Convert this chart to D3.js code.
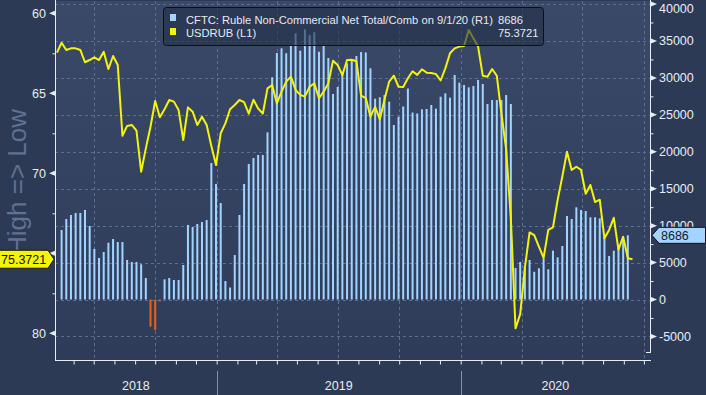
<!DOCTYPE html>
<html>
<head>
<meta charset="utf-8">
<script src="https://cdn.jsdelivr.net/npm/d3@7"></script>
<style>
  body { margin: 0; background: #2c3a56; }
  svg { display: block; font-family: "Liberation Sans", Arial, sans-serif; }
</style>
</head>
<body>
<svg id="chart" width="706" height="395"></svg>
<script>
// CFTC ruble non-commercial net positions, weekly (contracts)
const netPositions = [
  9410, 10900, 11440, 11710, 11710, 12120, 9950, 6840, 5620, 6430,
  7690, 8190, 7780, 7780, 5350, 5080, 5080, 4770, 2910, -3680,
  -4130, -250, 2730, 2910, 2640, 2640, 4670, 10090, 9810, 10220,
  10490, 10760, 18480, 15640, 13060, 2500, 1620, 6020, 11440, 15640,
  18340, 19150, 19560, 19560, 22630, 30080, 33370, 34000, 33330, 34320,
  36030, 33680, 36580, 35800, 36170, 33540, 34320, 32690, 27820, 28770,
  30800, 31970, 32420, 32960, 33500, 33440, 31300, 27180, 27370, 27680,
  26780, 23620, 24740, 26130, 28560, 25310, 25180, 25750, 25790, 26330,
  25830, 27450, 27910, 27320, 30390, 29350, 29040, 28720, 28900, 29710,
  29170, 26460, 27000, 27000, 27000, 27680, 26460, 4260, 5080, 4540,
  5350, 3760, 4220, 5580, 4090, 6610, 5710, 7240, 11300, 10900,
  12480, 12120, 11980, 11130, 11130, 10990, 8500, 5890, 6610, 7070,
  8050, 8686
];

// USDRUB weekly close
const usdrub = [
  62.46, 61.84, 62.29, 62.19, 62.19, 62.29, 63.06, 62.92, 62.75, 62.92,
  62.40, 63.48, 62.67, 63.23, 67.65, 67.04, 66.98, 67.34, 69.90, 68.44,
  67.09, 65.48, 66.50, 66.00, 65.42, 65.52, 66.04, 67.92, 65.88, 66.15,
  66.98, 66.46, 66.98, 68.30, 69.48, 67.50, 66.88, 66.00, 65.73, 65.42,
  65.55, 66.27, 65.40, 65.95, 66.27, 64.69, 64.48, 65.63, 64.90, 64.27,
  63.96, 64.79, 65.10, 65.21, 64.59, 64.38, 65.31, 64.90, 64.38, 62.96,
  63.23, 63.86, 62.92, 62.90, 63.00, 65.15, 65.30, 66.46, 65.85, 66.63,
  65.40, 64.27, 63.90, 64.59, 64.60, 64.06, 63.62, 63.85, 63.50, 63.71,
  63.73, 63.80, 64.20, 63.44, 62.50, 62.19, 62.08, 62.04, 61.04, 61.56,
  62.08, 63.90, 63.96, 63.48, 63.90, 66.30, 68.50, 72.80, 79.69, 78.80,
  75.90, 73.70, 73.86, 74.59, 75.28, 73.54, 73.38, 71.67, 70.21, 68.65,
  69.79, 69.59, 69.79, 71.28, 70.73, 71.80, 71.65, 74.06, 73.54, 72.78,
  74.77, 73.96, 75.31, 75.3721
];

// plotted week positions (Bloomberg weekly buckets)
const firstBarWeek = new Date(2018, 4, 14);
const firstLineWeek = new Date(2018, 4, 7);

const leftTicks = [60, 65, 70, 75, 80];
const leftMinor = [62.5, 67.5, 72.5, 77.5];
const rightTicks = [-5000, 0, 5000, 10000, 15000, 20000, 25000, 30000, 35000, 40000];
const rightMinor = [-2500, 2500, 7500, 12500, 17500, 22500, 27500, 32500, 37500];
const years = [2018, 2019, 2020];

const legendLabels = ["CFTC: Ruble Non-Commercial Net Total/Comb on 9/1/20 (R1)", "USDRUB (L1)"];
const legendValues = ["8686", "75.3721"];

const svg = d3.select("#chart");
const plot = {left: 55, right: 650, top: 1, bottom: 360};

//scales
const x = d3.scaleTime()
  .domain([new Date(2018, 4, 4, 3), new Date(2020, 9, 10, 4)])
  .range([plot.left, plot.right]);
const yL = d3.scaleLinear().domain([60, 80]).range([13.3, 333.3]);
const yR = d3.scaleLinear().domain([0, 40000]).range([299.5, 4]);

const bars = netPositions.map((v, i) => ({date: d3.timeDay.offset(firstBarWeek, 7 * i), value: v}));
const linePts = usdrub.map((v, i) => ({date: d3.timeDay.offset(firstLineWeek, 7 * i), value: v}));

//background
const defs = svg.append("defs");
const grad = defs.append("linearGradient").attr("id", "bg").attr("x1", 0).attr("y1", 0).attr("x2", 0).attr("y2", 1);
grad.append("stop").attr("offset", "0%").attr("stop-color", "#3a4968");
grad.append("stop").attr("offset", "100%").attr("stop-color", "#2e3c59");
defs.append("clipPath").attr("id", "clip")
  .append("rect").attr("x", plot.left).attr("y", plot.top)
  .attr("width", plot.right - plot.left).attr("height", plot.bottom - plot.top);

svg.append("rect").attr("width", 706).attr("height", 395).attr("fill", "#2c3a56");
svg.append("rect")
  .attr("x", plot.left).attr("y", plot.top)
  .attr("width", plot.right - plot.left).attr("height", plot.bottom - plot.top)
  .attr("fill", "url(#bg)");

//grid
const grid = svg.append("g").attr("stroke", "#5b6f93").attr("stroke-dasharray", "3,3").attr("stroke-width", 1);
grid.selectAll("line.h").data(rightTicks).enter().append("line")
  .attr("x1", plot.left).attr("x2", plot.right)
  .attr("y1", d => Math.round(yR(d)) + 0.5).attr("y2", d => Math.round(yR(d)) + 0.5);
grid.selectAll("line.v").data(d3.timeMonth.every(3).range(x.domain()[0], x.domain()[1])).enter().append("line")
  .attr("y1", plot.top).attr("y2", plot.bottom)
  .attr("x1", d => Math.round(x(d)) + 0.5).attr("x2", d => Math.round(x(d)) + 0.5);

//bars
svg.append("g").attr("clip-path", "url(#clip)")
  .selectAll("rect").data(bars).enter().append("rect")
  .attr("x", d => x(d.date) - 1)
  .attr("width", 2)
  .attr("y", d => yR(Math.max(0, d.value)))
  .attr("height", d => Math.abs(yR(d.value) - yR(0)))
  .attr("fill", d => d.value < 0 ? "#e8621c" : "#a3d3ff");

//line
svg.append("path").datum(linePts)
  .attr("clip-path", "url(#clip)")
  .attr("fill", "none")
  .attr("stroke", "#f4f40a")
  .attr("stroke-width", 2)
  .attr("stroke-linejoin", "round")
  .attr("d", d3.line().x(d => x(d.date)).y(d => yL(d.value)));

//legend box
const leg = svg.append("g");
leg.append("rect").attr("x", 163.5).attr("y", 7.5).attr("width", 380).attr("height", 38).attr("rx", 3)
  .attr("fill", "#243049").attr("fill-opacity", 0.62).attr("stroke", "#0b1019");
leg.append("rect").attr("x", 170).attr("y", 14).attr("width", 6).attr("height", 7).attr("fill", "#a3d3ff");
leg.append("rect").attr("x", 170).attr("y", 28).attr("width", 6).attr("height", 7).attr("fill", "#f4f40a");
leg.selectAll("text.lab").data(legendLabels).enter().append("text")
  .attr("x", 186).attr("y", (d, i) => 24 + i * 12.5)
  .attr("font-size", 11.2).attr("fill", "#e6eaf1").text(d => d);
leg.selectAll("text.val").data(legendValues).enter().append("text")
  .attr("x", 498).attr("y", (d, i) => 24 + i * 12.5)
  .attr("font-size", 11.2).attr("fill", "#e6eaf1").text(d => d);

//axes
const axisColor = "#e9ecf2";
const axes = svg.append("g").attr("stroke", axisColor).attr("fill", "none");
axes.append("line").attr("x1", plot.left + 0.5).attr("x2", plot.left + 0.5).attr("y1", 0).attr("y2", plot.bottom);
axes.append("line").attr("x1", plot.right + 0.5).attr("x2", plot.right + 0.5).attr("y1", 0).attr("y2", 353);
axes.append("line").attr("x1", plot.left).attr("x2", plot.right + 1).attr("y1", plot.bottom + 0.5).attr("y2", plot.bottom + 0.5);
axes.append("line").attr("x1", plot.right - 4).attr("x2", plot.right).attr("y1", 352.5).attr("y2", 352.5);

// left axis
const lAx = svg.append("g").attr("transform", `translate(${plot.left + 0.5},0)`)
  .call(d3.axisLeft(yL).tickValues(leftMinor).tickSize(3).tickFormat(""));
lAx.select(".domain").remove();
lAx.selectAll("line").attr("stroke", axisColor);
svg.selectAll("path.lmark").data(leftTicks).enter().append("path")
  .attr("d", d => `M${plot.left},${yL(d) - 2.5}L${plot.left - 6},${yL(d)}L${plot.left},${yL(d) + 2.5}Z`)
  .attr("fill", axisColor);
// 75 sits under the last-value tag, as in the source
svg.selectAll("text.ll").data(leftTicks.filter(d => d !== 75)).enter().append("text")
  .attr("x", 46).attr("y", d => yL(d) + 4.5).attr("text-anchor", "end")
  .attr("font-size", 12.5).attr("fill", axisColor).text(d => d);

// right axis
const rAx = svg.append("g").attr("transform", `translate(${plot.right + 0.5},0)`)
  .call(d3.axisRight(yR).tickValues(rightMinor).tickSize(3).tickFormat(""));
rAx.select(".domain").remove();
rAx.selectAll("line").attr("stroke", axisColor);
svg.selectAll("path.rmark").data(rightTicks).enter().append("path")
  .attr("d", d => `M${plot.right + 1},${yR(d) - 2.5}L${plot.right + 7},${yR(d)}L${plot.right + 1},${yR(d) + 2.5}Z`)
  .attr("fill", axisColor);
svg.selectAll("text.rl").data(rightTicks).enter().append("text")
  .attr("x", 659).attr("y", d => Math.max(yR(d) + 4.5, 13))
  .attr("font-size", 12.5).attr("fill", axisColor).text(d => d);

// bottom axis
const bAx = svg.append("g").attr("transform", `translate(0,${plot.bottom + 0.5})`)
  .call(d3.axisBottom(x).ticks(d3.timeMonth.every(1)).tickSize(4).tickFormat(""));
bAx.select(".domain").remove();
bAx.selectAll("line").attr("stroke", axisColor);

const yearSpans = years.map(yr => {
  const a = Math.max(x(new Date(yr, 0, 1)), plot.left);
  const b = Math.min(x(new Date(yr + 1, 0, 1)), plot.right);
  return {yr, a, b};
});
svg.selectAll("line.ysep").data(years.slice(1)).enter().append("line")
  .attr("x1", d => Math.round(x(new Date(d, 0, 1))) + 0.5).attr("x2", d => Math.round(x(new Date(d, 0, 1))) + 0.5)
  .attr("y1", 371).attr("y2", 395).attr("stroke", "#8791a6");
svg.selectAll("text.yr").data(yearSpans).enter().append("text")
  .attr("x", d => (d.a + d.b) / 2).attr("y", 390).attr("text-anchor", "middle")
  .attr("font-size", 12.5).attr("fill", axisColor).text(d => d.yr);

// axis title
svg.append("text")
  .attr("transform", "translate(26,182) rotate(-90)")
  .attr("text-anchor", "middle").attr("font-size", 26)
  .attr("fill", "#617192").text("High => Low");

//value tags
const tagR = yR(8686);
svg.append("path")
  .attr("d", `M${plot.right + 2},${tagR}L${plot.right + 9},${tagR - 8}H705.5V${tagR + 8}H${plot.right + 9}Z`)
  .attr("fill", "#a3d3ff").attr("stroke", "#0b1322");
svg.append("text").attr("x", 661).attr("y", tagR + 4.5)
  .attr("font-size", 12.5).attr("fill", "#111c30").text(legendValues[0]);

const tagL = yL(75.3721);
svg.append("path")
  .attr("d", `M-1,${tagL - 9}H48L54,${tagL}L48,${tagL + 9}H-1Z`)
  .attr("fill", "#f4f40a").attr("stroke", "#1b1b00");
svg.append("text").attr("x", 1).attr("y", tagL + 4.5)
  .attr("font-size", 12.5).attr("fill", "#111").text(legendValues[1]);
</script>
</body>
</html>
